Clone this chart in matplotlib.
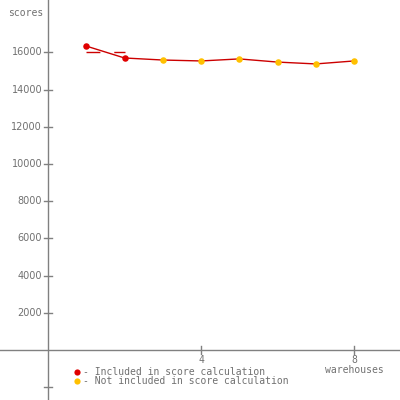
import numpy as np
import matplotlib
matplotlib.use('Agg')
import matplotlib.pyplot as plt

warehouses = [1, 2, 3, 4, 5, 6, 7, 8]
scores = [16340, 15700, 15590, 15540, 15650, 15480, 15380, 15540]
included = [True, True, False, False, False, False, False, False]
y_ticks = [-2000, 2000, 4000, 6000, 8000, 10000, 12000, 14000, 16000]
x_ticks = [4, 8]
score_value = 16020

grey = '#808080'
text_grey = '#707070'
line_red = '#cc0000'
red = '#e00000'
yellow = '#ffc000'

fig = plt.figure(figsize=(4, 4), dpi=100)
ax = fig.add_axes([0, 0, 1, 1])
ax.set_xlim(-48 / 38.25, 352 / 38.25)
ax.set_ylim(-50 / 0.0186, 350 / 0.0186)
ax.axis('off')

# axes through the origin
ax.axhline(0, color=grey, lw=1)
ax.axvline(0, color=grey, lw=1)

# ticks crossing the axes
tx = 4 / 38.25
ty = 4 / 0.0186
for t in y_ticks:
    ax.plot([-tx, tx], [t, t], color=grey, lw=1)
    if t > 0:
        ax.text(-tx - 0.05, t, str(t), ha='right', va='center',
                fontsize=7, color=text_grey, family='DejaVu Sans')
for t in x_ticks:
    ax.plot([t, t], [-ty, ty], color=grey, lw=1)
    ax.text(t, -5 / 0.0186, str(t), ha='center', va='top',
            fontsize=7, color=text_grey, family='DejaVu Sans Mono')

ax.text(8, -15 / 0.0186, 'warehouses', ha='center', va='top',
        fontsize=7, color=text_grey, family='DejaVu Sans Mono')
ax.text(-40 / 38.25, 342 / 0.0186, 'scores', ha='left', va='top',
        fontsize=7, color=text_grey, family='DejaVu Sans Mono')

# data line and score level
ax.plot(warehouses, scores, color=line_red, lw=1, zorder=2)
ax.plot([1, 2], [score_value, score_value], color=line_red, lw=1,
        dashes=(10, 10), zorder=2)

xs = np.array(warehouses)
ys = np.array(scores)
inc = np.array(included)
ax.scatter(xs[inc], ys[inc], s=22, color=red, marker='o', zorder=3, lw=0)
ax.scatter(xs[~inc], ys[~inc], s=22, color=yellow, marker='o', zorder=3, lw=0)

# legend
lx = 29 / 38.25
ax.scatter([lx], [-22 / 0.0186], s=20, color=red, lw=0)
ax.scatter([lx], [-31 / 0.0186], s=20, color=yellow, lw=0)
ax.text(lx + 6 / 38.25, -22 / 0.0186, '- Included in score calculation',
        ha='left', va='center', fontsize=7, color=text_grey, family='DejaVu Sans Mono')
ax.text(lx + 6 / 38.25, -31 / 0.0186, '- Not included in score calculation',
        ha='left', va='center', fontsize=7, color=text_grey, family='DejaVu Sans Mono')

fig.savefig('out.png', dpi=100)
